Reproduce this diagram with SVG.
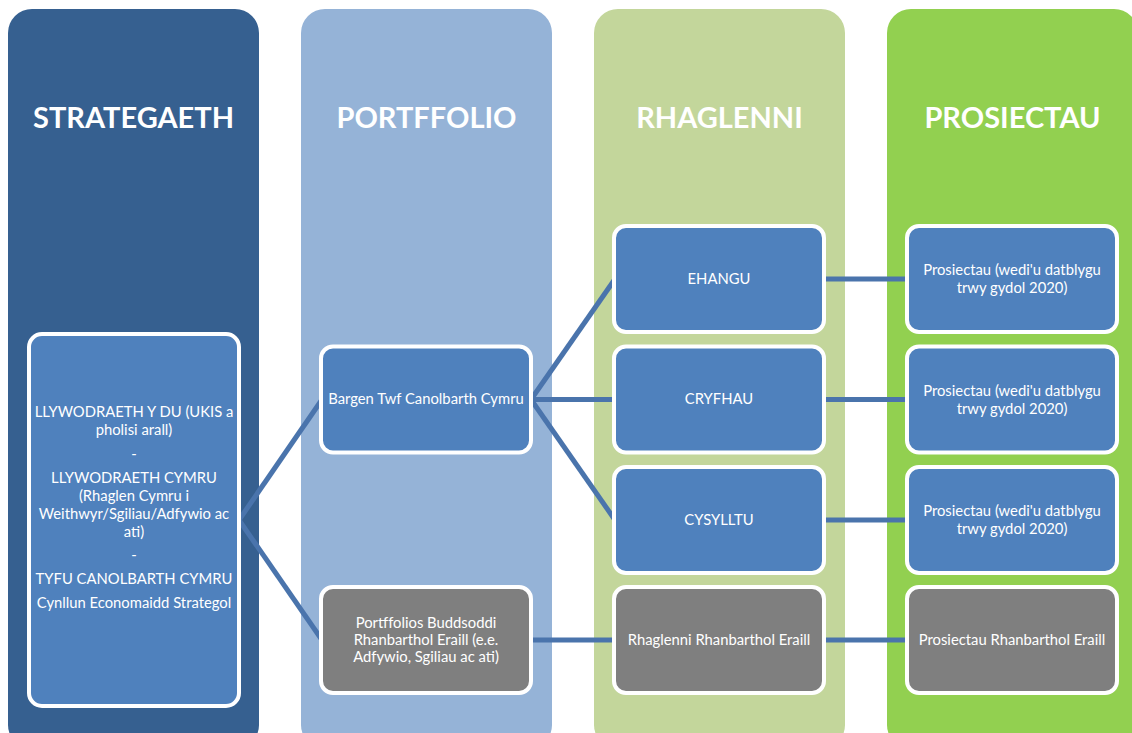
<svg xmlns="http://www.w3.org/2000/svg" width="1132" height="733" viewBox="0 0 1132 733">
<style>
.col{stroke:none}
.title{font-family:Lato,"Liberation Sans",sans-serif;font-weight:bold;font-size:29px;fill:#ffffff;text-anchor:middle}
.box{stroke:#ffffff;stroke-width:4}
.blue{fill:#4F81BD}
.gray{fill:#7F7F7F}
.t{font-family:Lato,"Liberation Sans",sans-serif;font-size:14.8px;fill:#ffffff;text-anchor:middle}
.con{stroke:#4A74AC;stroke-width:5;fill:none}
</style>
<rect width="1132" height="733" fill="#ffffff"/>
<g id="columns">
<rect class="col" x="8" y="9" width="251" height="740" rx="24" fill="#366090"/>
<rect class="col" x="301" y="9" width="251" height="740" rx="24" fill="#95B3D7"/>
<rect class="col" x="594" y="9" width="251" height="740" rx="24" fill="#C3D69B"/>
<rect class="col" x="887" y="9" width="251" height="740" rx="24" fill="#92D050"/>
<text class="title" x="133.5" y="128">STRATEGAETH</text>
<text class="title" x="426.5" y="128">PORTFFOLIO</text>
<text class="title" x="719.5" y="128">RHAGLENNI</text>
<text class="title" x="1012.5" y="128">PROSIECTAU</text>
</g>
<g id="connectors">
<line class="con" x1="239" y1="520" x2="322" y2="399.5"/>
<line class="con" x1="239" y1="520" x2="322" y2="640"/>
<line class="con" x1="531" y1="399.5" x2="615" y2="279"/>
<line class="con" x1="531" y1="399.5" x2="615" y2="399.5"/>
<line class="con" x1="531" y1="399.5" x2="615" y2="520"/>
<line class="con" x1="531" y1="640" x2="615" y2="640"/>
<line class="con" x1="824" y1="279" x2="908" y2="279"/>
<line class="con" x1="824" y1="399.5" x2="908" y2="399.5"/>
<line class="con" x1="824" y1="520" x2="908" y2="520"/>
<line class="con" x1="824" y1="640" x2="908" y2="640"/>
</g>
<g id="strategaeth">
<rect class="box blue" x="29" y="334" width="210" height="372" rx="13"/>
<text class="t" x="134" y="417">LLYWODRAETH Y DU (UKIS a</text>
<text class="t" x="134" y="435">pholisi arall)</text>
<text class="t" x="134" y="459">-</text>
<text class="t" x="134" y="483">LLYWODRAETH CYMRU</text>
<text class="t" x="134" y="501">(Rhaglen Cymru i</text>
<text class="t" x="134" y="519">Weithwyr/Sgiliau/Adfywio ac</text>
<text class="t" x="134" y="537">ati)</text>
<text class="t" x="134" y="560">-</text>
<text class="t" x="134" y="584">TYFU CANOLBARTH CYMRU</text>
<text class="t" x="134" y="608">Cynllun Economaidd Strategol</text>
</g>
<g id="bargen">
<rect class="box blue" x="321" y="346.5" width="210" height="106" rx="12"/>
<text class="t" x="426" y="404">Bargen Twf Canolbarth Cymru</text>
</g>
<g id="portffolios-eraill">
<rect class="box gray" x="321" y="587" width="210" height="106" rx="12"/>
<text class="t" x="426" y="628">Portffolios Buddsoddi</text>
<text class="t" x="426" y="645">Rhanbarthol Eraill (e.e.</text>
<text class="t" x="426" y="662">Adfywio, Sgiliau ac ati)</text>
</g>
<g id="ehangu">
<rect class="box blue" x="614" y="226" width="210" height="106" rx="12"/>
<text class="t" x="719" y="284">EHANGU</text>
</g>
<g id="cryfhau">
<rect class="box blue" x="614" y="346.5" width="210" height="106" rx="12"/>
<text class="t" x="719" y="404">CRYFHAU</text>
</g>
<g id="cysylltu">
<rect class="box blue" x="614" y="467" width="210" height="106" rx="12"/>
<text class="t" x="719" y="525">CYSYLLTU</text>
</g>
<g id="rhaglenni-eraill">
<rect class="box gray" x="614" y="587" width="210" height="106" rx="12"/>
<text class="t" x="719" y="645">Rhaglenni Rhanbarthol Eraill</text>
</g>
<g id="prosiectau-1">
<rect class="box blue" x="907" y="226" width="210" height="106" rx="12"/>
<text class="t" x="1012" y="275">Prosiectau (wedi'u datblygu</text>
<text class="t" x="1012" y="293">trwy gydol 2020)</text>
</g>
<g id="prosiectau-2">
<rect class="box blue" x="907" y="346.5" width="210" height="106" rx="12"/>
<text class="t" x="1012" y="395.5">Prosiectau (wedi'u datblygu</text>
<text class="t" x="1012" y="413.5">trwy gydol 2020)</text>
</g>
<g id="prosiectau-3">
<rect class="box blue" x="907" y="467" width="210" height="106" rx="12"/>
<text class="t" x="1012" y="516">Prosiectau (wedi'u datblygu</text>
<text class="t" x="1012" y="534">trwy gydol 2020)</text>
</g>
<g id="prosiectau-eraill">
<rect class="box gray" x="907" y="587" width="210" height="106" rx="12"/>
<text class="t" x="1012" y="645">Prosiectau Rhanbarthol Eraill</text>
</g>
</svg>
